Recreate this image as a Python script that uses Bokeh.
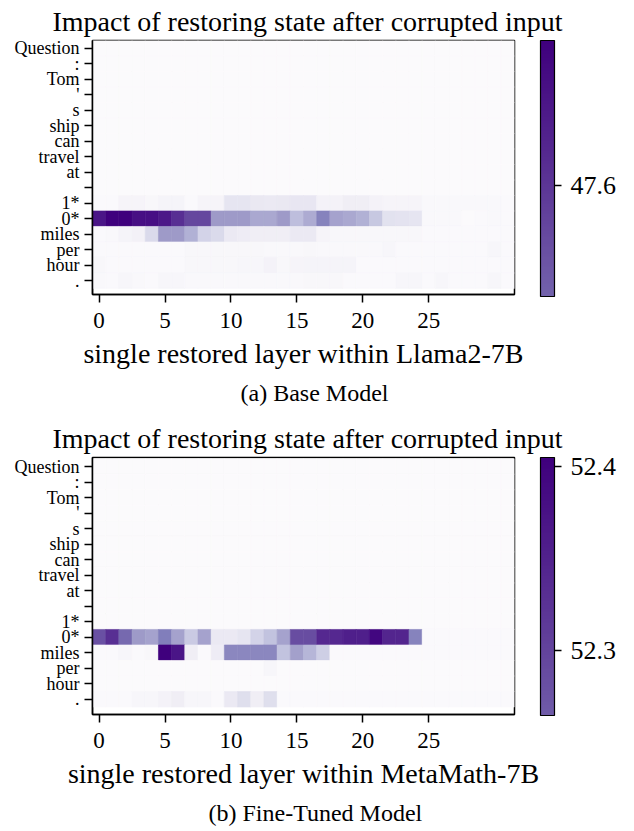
from bokeh.plotting import figure
from bokeh.models import (LinearColorMapper, ColorBar, FixedTicker, ColumnDataSource,
                          Title, Range1d)
from bokeh.layouts import column
from bokeh.palettes import Purples256
from bokeh.transform import transform
from bokeh.embed import file_html
from bokeh.resources import INLINE

tokens = ["Question", ":", "Tom", "'", "s", "ship", "can", "travel", "at", "",
          "1*", "0*", "miles", "per", "hour", "."]
layers = list(range(32))
x_ticks = [0, 5, 10, 15, 20, 25]

# ---- (a) Base model: restored-state score per token (rows) x layer (cols)
base_rows = [
    [46.78, 46.78, 46.78, 46.78, 46.78, 46.78, 46.78, 46.78, 46.78, 46.78, 46.78, 46.78, 46.78, 46.78, 46.78, 46.78,
     46.78, 46.78, 46.78, 46.78, 46.78, 46.78, 46.78, 46.78, 46.78, 46.78, 46.78, 46.78, 46.78, 46.78, 46.78, 46.78],
    [46.78, 46.78, 46.78, 46.78, 46.78, 46.78, 46.78, 46.78, 46.78, 46.78, 46.78, 46.78, 46.78, 46.78, 46.78, 46.78,
     46.78, 46.78, 46.78, 46.78, 46.78, 46.78, 46.78, 46.78, 46.78, 46.78, 46.78, 46.78, 46.78, 46.78, 46.78, 46.78],
    [46.78, 46.78, 46.78, 46.78, 46.78, 46.78, 46.78, 46.78, 46.78, 46.78, 46.78, 46.78, 46.78, 46.78, 46.78, 46.78,
     46.78, 46.78, 46.78, 46.78, 46.78, 46.78, 46.78, 46.78, 46.78, 46.78, 46.78, 46.78, 46.78, 46.78, 46.78, 46.78],
    [46.78, 46.78, 46.78, 46.78, 46.78, 46.78, 46.78, 46.78, 46.78, 46.78, 46.78, 46.78, 46.78, 46.78, 46.78, 46.78,
     46.78, 46.78, 46.78, 46.78, 46.78, 46.78, 46.78, 46.78, 46.78, 46.78, 46.78, 46.78, 46.78, 46.78, 46.78, 46.78],
    [46.78, 46.78, 46.78, 46.78, 46.78, 46.78, 46.78, 46.78, 46.78, 46.78, 46.78, 46.78, 46.78, 46.78, 46.78, 46.78,
     46.78, 46.78, 46.78, 46.78, 46.78, 46.78, 46.78, 46.78, 46.78, 46.78, 46.78, 46.78, 46.78, 46.78, 46.78, 46.78],
    [46.78, 46.78, 46.78, 46.78, 46.78, 46.78, 46.78, 46.78, 46.78, 46.78, 46.78, 46.78, 46.78, 46.78, 46.78, 46.78,
     46.78, 46.78, 46.78, 46.78, 46.78, 46.78, 46.78, 46.78, 46.78, 46.78, 46.78, 46.78, 46.78, 46.78, 46.78, 46.78],
    [46.78, 46.78, 46.78, 46.78, 46.78, 46.78, 46.78, 46.78, 46.78, 46.78, 46.78, 46.78, 46.78, 46.78, 46.78, 46.78,
     46.78, 46.78, 46.78, 46.78, 46.78, 46.78, 46.78, 46.78, 46.78, 46.78, 46.78, 46.78, 46.78, 46.78, 46.78, 46.78],
    [46.78, 46.78, 46.78, 46.78, 46.78, 46.78, 46.78, 46.78, 46.78, 46.78, 46.78, 46.78, 46.78, 46.78, 46.78, 46.78,
     46.78, 46.78, 46.78, 46.78, 46.78, 46.78, 46.78, 46.78, 46.78, 46.78, 46.78, 46.78, 46.78, 46.78, 46.78, 46.78],
    [46.78, 46.78, 46.78, 46.78, 46.78, 46.78, 46.78, 46.78, 46.78, 46.78, 46.78, 46.78, 46.78, 46.78, 46.78, 46.78,
     46.78, 46.78, 46.78, 46.78, 46.78, 46.78, 46.78, 46.78, 46.78, 46.78, 46.78, 46.78, 46.78, 46.78, 46.78, 46.78],
    [46.78, 46.78, 46.78, 46.78, 46.78, 46.78, 46.78, 46.78, 46.78, 46.78, 46.78, 46.78, 46.78, 46.78, 46.78, 46.78,
     46.78, 46.78, 46.78, 46.78, 46.78, 46.78, 46.78, 46.78, 46.78, 46.78, 46.78, 46.78, 46.78, 46.78, 46.78, 46.78],
    [46.79, 46.79, 46.83, 46.83, 46.81, 46.84, 46.84, 46.79, 46.83, 46.83, 46.95, 46.95, 46.93, 46.92, 46.93, 46.94,
     46.94, 46.85, 46.85, 46.89, 46.89, 46.85, 46.83, 46.83, 46.83, 46.80, 46.80, 46.80, 46.80, 46.80, 46.80, 46.79],
    [47.70, 47.77, 47.77, 47.72, 47.72, 47.69, 47.62, 47.55, 47.55, 47.27, 47.27, 47.27, 47.22, 47.22, 47.27, 47.14,
     47.21, 47.37, 47.24, 47.22, 47.19, 47.10, 46.97, 46.96, 46.95, 46.80, 46.80, 46.80, 46.78, 46.79, 46.80, 46.79],
    [46.79, 46.80, 46.84, 46.86, 47.02, 47.27, 47.27, 47.19, 47.05, 47.02, 46.92, 46.90, 46.89, 46.89, 46.89, 46.92,
     46.92, 46.83, 46.81, 46.81, 46.81, 46.81, 46.81, 46.81, 46.81, 46.79, 46.79, 46.79, 46.79, 46.79, 46.79, 46.79],
    [46.79, 46.79, 46.79, 46.79, 46.79, 46.79, 46.79, 46.81, 46.81, 46.81, 46.81, 46.81, 46.81, 46.80, 46.80, 46.80,
     46.81, 46.80, 46.80, 46.80, 46.80, 46.80, 46.82, 46.79, 46.79, 46.79, 46.79, 46.79, 46.79, 46.79, 46.82, 46.79],
    [46.81, 46.79, 46.79, 46.79, 46.79, 46.79, 46.79, 46.81, 46.81, 46.81, 46.81, 46.82, 46.82, 46.85, 46.81, 46.83,
     46.84, 46.84, 46.84, 46.84, 46.79, 46.79, 46.79, 46.79, 46.79, 46.79, 46.79, 46.79, 46.79, 46.79, 46.79, 46.79],
    [46.80, 46.79, 46.82, 46.80, 46.79, 46.82, 46.82, 46.80, 46.80, 46.80, 46.80, 46.80, 46.80, 46.80, 46.80, 46.80,
     46.81, 46.81, 46.81, 46.79, 46.79, 46.79, 46.79, 46.82, 46.82, 46.79, 46.82, 46.79, 46.79, 46.79, 46.82, 46.79],
]
base_low, base_high = 46.77, 47.77
base_cb_ticks = [47.6]
base_cb_range = (47.47, 47.77)

# ---- (b) Fine-tuned model
ft_rows = [
    [51.910, 51.910, 51.910, 51.910, 51.910, 51.910, 51.910, 51.910, 51.910, 51.910, 51.910, 51.910, 51.910, 51.910, 51.910, 51.910,
     51.910, 51.910, 51.910, 51.910, 51.910, 51.910, 51.910, 51.910, 51.910, 51.910, 51.910, 51.910, 51.910, 51.910, 51.910, 51.910],
    [51.910, 51.910, 51.910, 51.910, 51.910, 51.910, 51.910, 51.910, 51.910, 51.910, 51.910, 51.910, 51.910, 51.910, 51.910, 51.910,
     51.910, 51.910, 51.910, 51.910, 51.910, 51.910, 51.910, 51.910, 51.910, 51.910, 51.910, 51.910, 51.910, 51.910, 51.910, 51.910],
    [51.910, 51.910, 51.910, 51.910, 51.910, 51.910, 51.910, 51.910, 51.910, 51.910, 51.910, 51.910, 51.910, 51.910, 51.910, 51.910,
     51.910, 51.910, 51.910, 51.910, 51.910, 51.910, 51.910, 51.910, 51.910, 51.910, 51.910, 51.910, 51.910, 51.910, 51.910, 51.910],
    [51.910, 51.910, 51.910, 51.910, 51.910, 51.910, 51.910, 51.910, 51.910, 51.910, 51.910, 51.910, 51.910, 51.910, 51.910, 51.910,
     51.910, 51.910, 51.910, 51.910, 51.910, 51.910, 51.910, 51.910, 51.910, 51.910, 51.910, 51.910, 51.910, 51.910, 51.910, 51.910],
    [51.910, 51.910, 51.910, 51.910, 51.910, 51.910, 51.910, 51.910, 51.910, 51.910, 51.910, 51.910, 51.910, 51.910, 51.910, 51.910,
     51.910, 51.910, 51.910, 51.910, 51.910, 51.910, 51.910, 51.910, 51.910, 51.910, 51.910, 51.910, 51.910, 51.910, 51.910, 51.910],
    [51.910, 51.910, 51.910, 51.910, 51.910, 51.910, 51.910, 51.910, 51.910, 51.910, 51.910, 51.910, 51.910, 51.910, 51.910, 51.910,
     51.910, 51.910, 51.910, 51.910, 51.910, 51.910, 51.910, 51.910, 51.910, 51.910, 51.910, 51.910, 51.910, 51.910, 51.910, 51.910],
    [51.910, 51.910, 51.910, 51.910, 51.910, 51.910, 51.910, 51.910, 51.910, 51.910, 51.910, 51.910, 51.910, 51.910, 51.910, 51.910,
     51.910, 51.910, 51.910, 51.910, 51.910, 51.910, 51.910, 51.910, 51.910, 51.910, 51.910, 51.910, 51.910, 51.910, 51.910, 51.910],
    [51.910, 51.910, 51.910, 51.910, 51.910, 51.910, 51.910, 51.910, 51.910, 51.910, 51.910, 51.910, 51.910, 51.910, 51.910, 51.910,
     51.910, 51.910, 51.910, 51.910, 51.910, 51.910, 51.910, 51.910, 51.910, 51.910, 51.910, 51.910, 51.910, 51.910, 51.910, 51.910],
    [51.910, 51.910, 51.910, 51.910, 51.910, 51.910, 51.910, 51.910, 51.910, 51.910, 51.910, 51.910, 51.910, 51.910, 51.910, 51.910,
     51.910, 51.910, 51.910, 51.910, 51.910, 51.910, 51.910, 51.910, 51.910, 51.910, 51.910, 51.910, 51.910, 51.910, 51.910, 51.910],
    [51.910, 51.910, 51.910, 51.910, 51.910, 51.910, 51.910, 51.910, 51.910, 51.910, 51.910, 51.910, 51.910, 51.910, 51.910, 51.910,
     51.910, 51.910, 51.910, 51.910, 51.910, 51.910, 51.910, 51.910, 51.910, 51.910, 51.910, 51.910, 51.910, 51.910, 51.910, 51.910],
    [51.910, 51.910, 51.910, 51.910, 51.910, 51.910, 51.910, 51.910, 51.910, 51.910, 51.910, 51.910, 51.910, 51.910, 51.910, 51.910,
     51.910, 51.910, 51.910, 51.910, 51.910, 51.910, 51.910, 51.910, 51.910, 51.910, 51.910, 51.910, 51.910, 51.910, 51.910, 51.910],
    [52.280, 52.330, 52.245, 52.155, 52.140, 52.215, 52.140, 52.065, 52.140, 51.980, 51.980, 51.995, 52.045, 52.080, 52.140, 52.285,
     52.285, 52.340, 52.340, 52.355, 52.355, 52.395, 52.345, 52.345, 52.205, 51.915, 51.915, 51.915, 51.915, 51.915, 51.915, 51.915],
    [51.915, 51.915, 51.930, 51.915, 51.925, 52.405, 52.370, 51.965, 51.915, 51.970, 52.195, 52.195, 52.195, 52.195, 52.080, 52.145,
     52.105, 52.055, 51.915, 51.915, 51.915, 51.915, 51.915, 51.915, 51.915, 51.915, 51.915, 51.915, 51.915, 51.915, 51.915, 51.915],
    [51.910, 51.910, 51.910, 51.910, 51.910, 51.910, 51.910, 51.910, 51.910, 51.910, 51.910, 51.910, 51.910, 51.930, 51.910, 51.910,
     51.910, 51.910, 51.910, 51.910, 51.910, 51.910, 51.910, 51.910, 51.910, 51.910, 51.910, 51.910, 51.910, 51.910, 51.910, 51.910],
    [51.910, 51.910, 51.910, 51.910, 51.910, 51.910, 51.910, 51.910, 51.910, 51.910, 51.910, 51.910, 51.910, 51.910, 51.910, 51.910,
     51.910, 51.910, 51.910, 51.910, 51.910, 51.910, 51.910, 51.910, 51.910, 51.910, 51.910, 51.910, 51.910, 51.910, 51.910, 51.910],
    [51.915, 51.915, 51.915, 51.930, 51.930, 51.945, 51.965, 51.930, 51.930, 51.915, 51.980, 52.015, 51.965, 52.015, 51.915, 51.915,
     51.915, 51.915, 51.915, 51.915, 51.915, 51.915, 51.915, 51.915, 51.915, 51.915, 51.915, 51.915, 51.915, 51.915, 51.915, 51.915],
]
ft_low, ft_high = 51.905, 52.405
ft_cb_ticks = [52.3, 52.4]
ft_cb_range = (52.2645, 52.405)

TITLE = "Impact of restoring state after corrupted input"
FONT = "Liberation Serif"
PALETTE = list(reversed(Purples256))  # light -> dark


def make_chart(rows, low, high, cb_range, cb_ticks, xlabel, caption, cap_offset,
               frame_h, min_bottom, y_start, y_end, cb_height, cb_y):
    xs, ys, vs = [], [], []
    for i, row in enumerate(rows):
        for j, v in enumerate(row):
            xs.append(layers[j])
            ys.append(i)
            vs.append(v)
    src = ColumnDataSource(dict(x=xs, y=ys, v=vs))
    mapper = LinearColorMapper(palette=PALETTE, low=low, high=high)

    p = figure(frame_width=422, frame_height=frame_h,
               x_range=Range1d(-0.5, 31.5), y_range=Range1d(y_start, y_end),
               output_backend="svg", toolbar_location=None,
               min_border_left=92, min_border_right=120,
               min_border_top=39, min_border_bottom=min_bottom,
               background_fill_color="white", border_fill_color="white")
    p.rect(x="x", y="y", width=1, height=1, source=src,
           fill_color=transform("v", mapper), line_color=transform("v", mapper),
           line_width=0.6)

    p.grid.visible = False
    p.outline_line_color = "black"
    p.outline_line_width = 1.5

    p.title.text = TITLE
    p.title.text_font = FONT
    p.title.text_font_size = "28px"
    p.title.text_font_style = "normal"
    p.title.text_color = "black"
    p.title.align = "left"
    p.title.offset = -40
    p.title.standoff = 7

    for ax in (p.xaxis[0], p.yaxis[0]):
        ax.axis_line_color = "black"
        ax.axis_line_width = 1.5
        ax.major_tick_line_color = "black"
        ax.major_tick_line_width = 1.5
        ax.major_tick_in = 0
        ax.minor_tick_line_color = None
        ax.major_label_text_font = FONT
        ax.major_label_text_font_style = "normal"
        ax.major_label_text_color = "black"

    p.xaxis.ticker = FixedTicker(ticks=x_ticks)
    p.xaxis.major_tick_out = 8
    p.xaxis.major_label_text_font_size = "23px"
    p.xaxis.major_label_standoff = 10
    p.xaxis.axis_label = xlabel
    p.xaxis.axis_label_text_font = FONT
    p.xaxis.axis_label_text_font_size = "28px"
    p.xaxis.axis_label_text_font_style = "normal"
    p.xaxis.axis_label_text_color = "black"
    p.xaxis.axis_label_standoff = 7

    p.yaxis.ticker = FixedTicker(ticks=list(range(len(tokens))))
    p.yaxis.major_label_overrides = {i: t for i, t in enumerate(tokens)}
    p.yaxis.major_tick_out = 8
    p.yaxis.major_label_text_font_size = "18px"
    p.yaxis.major_label_standoff = 5

    cb = ColorBar(color_mapper=mapper, ticker=FixedTicker(ticks=cb_ticks),
                  display_low=cb_range[0], display_high=cb_range[1],
                  width=14, height=cb_height, padding=0, margin=0,
                  location=(448, cb_y),
                  bar_line_color="black", bar_line_width=1.2,
                  major_tick_line_color="black", major_tick_line_width=1.5,
                  major_tick_in=0, major_tick_out=7,
                  major_label_text_font=FONT, major_label_text_font_size="26px",
                  major_label_text_color="black",
                  label_standoff=9, background_fill_color=None,
                  border_line_color=None)
    p.add_layout(cb, "center")

    cap = Title(text=caption, align="left", text_font=FONT,
                text_font_size="24px", text_font_style="normal",
                text_color="black", offset=cap_offset, standoff=13)
    p.add_layout(cap, "below")
    return p


p1 = make_chart(base_rows, base_low, base_high, base_cb_range, base_cb_ticks,
                "single restored layer within Llama2-7B", "(a) Base Model", 148,
                254, 123, 15.89, -0.5, 256, -2)
p2 = make_chart(ft_rows, ft_low, ft_high, ft_cb_range, ft_cb_ticks,
                "single restored layer within MetaMath-7B", "(b) Fine-Tuned Model", 116,
                257, 119, 15.98, -0.58, 258, -1)

layout = column(p1, p2)
open("out.html", "w").write(file_html(layout, INLINE))
